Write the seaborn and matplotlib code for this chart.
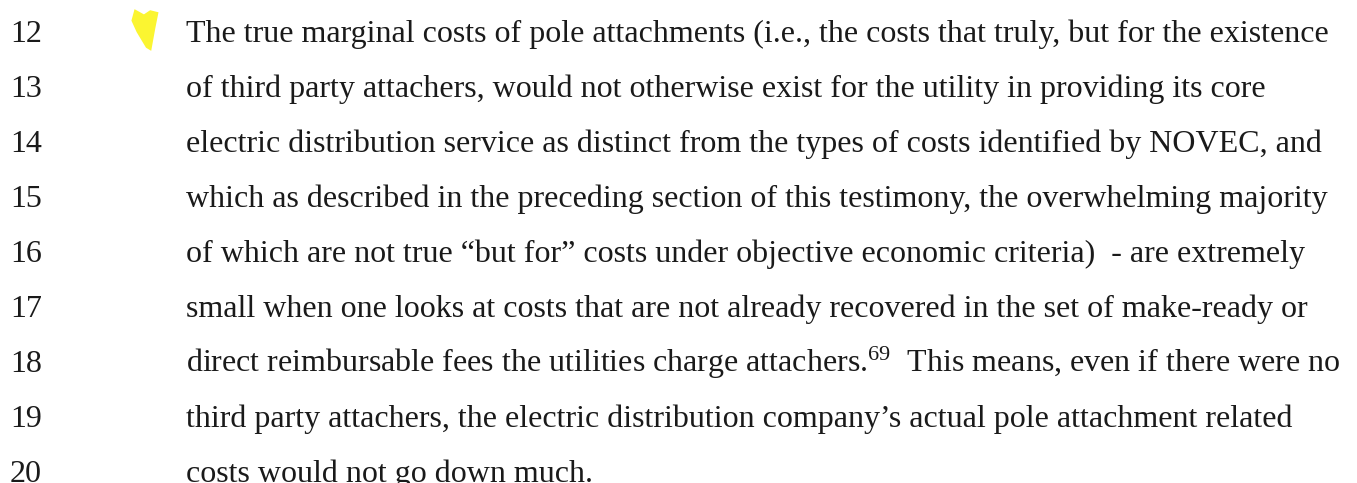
import matplotlib
matplotlib.use("Agg")
import matplotlib.pyplot as plt
import numpy as np
import seaborn as sns
import pandas as pd
from matplotlib.path import Path

sns.set_theme(style="white")
plt.rcParams['font.family'] = ['Liberation Serif', 'DejaVu Serif']
plt.rcParams['mathtext.fontset'] = 'custom'
plt.rcParams['mathtext.rm'] = 'Liberation Serif'
plt.rcParams['mathtext.it'] = 'Liberation Serif:italic'

line_numbers = [12, 13, 14, 15, 16, 17, 18, 19, 20]
text_lines = [
    "The true marginal costs of pole attachments (i.e., the costs that truly, but for the existence",
    "of third party attachers, would not otherwise exist for the utility in providing its core",
    "electric distribution service as distinct from the types of costs identified by NOVEC, and",
    "which as described in the preceding section of this testimony, the overwhelming majority",
    "of which are not true \u201cbut for\u201d costs under objective economic criteria)  - are extremely",
    "small when one looks at costs that are not already recovered in the set of make-ready or",
    "direct reimbursable fees the utilities charge attachers.$^{69}$  This means, even if there were no",
    "third party attachers, the electric distribution company\u2019s actual pole attachment related",
    "costs would not go down much.",
]
highlighted = [12]

W, H = 1357, 483
first_baseline = 42
line_gap = 55
num_x = 10
text_x = 186
fs = 23
ink = "#1a1a1a"

df = pd.DataFrame({"num": line_numbers, "text": text_lines})
df["y"] = first_baseline + line_gap * (df["num"] - line_numbers[0])

fig = plt.figure(figsize=(W / 100, H / 100), dpi=100)
ax = fig.add_axes([0, 0, 1, 1])

# yellow highlighter tick next to the marked line (narrow, tapering down)
blob = Path([(-0.55, 1.0), (-0.1, 0.75), (0.2, 0.95), (0.6, 0.85), (0.45, 0.1),
             (0.25, -1.0), (0.0, -0.85), (-0.45, -0.1), (-0.7, 0.45), (-0.55, 1.0)])
hl = df[df["num"].isin(highlighted)].copy()
hl["x"] = 146
hl["yc"] = hl["y"] - 12
sns.scatterplot(data=hl, x="x", y="yc", ax=ax, marker=blob, s=900,
                color="#fbf41a", edgecolor="none", alpha=0.9, legend=False)

ax.set_xlim(0, W)
ax.set_ylim(H, 0)
ax.axis("off")

for _, r in df.iterrows():
    ax.text(num_x, r["y"], str(r["num"]), fontsize=fs, color=ink,
            ha="left", va="baseline")
    ax.text(text_x, r["y"], r["text"], fontsize=fs, color=ink,
            ha="left", va="baseline")

fig.savefig("out.png", dpi=100, facecolor="white")
